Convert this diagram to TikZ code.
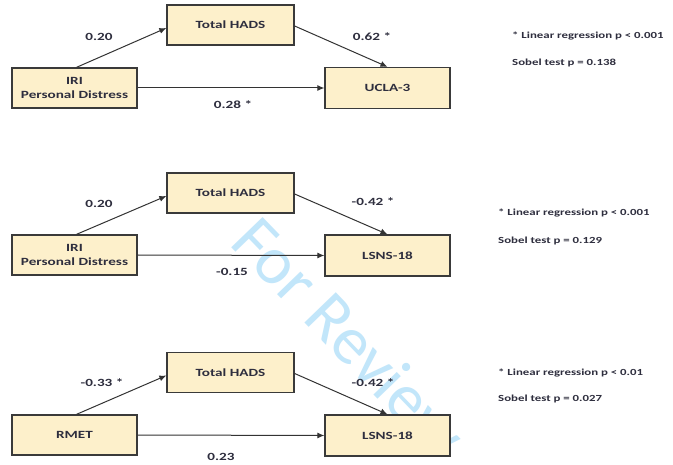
\documentclass[tikz,border=0pt]{standalone}
\usepackage{fontspec}
\setmainfont{Carlito}[FakeStretch=1.38]
\newfontfamily\wmfont{Carlito}
\usetikzlibrary{arrows.meta}
\definecolor{boxfill}{HTML}{FDF0CB}
\definecolor{boxline}{HTML}{3A3A3A}
\definecolor{txt}{HTML}{2E2E3E}
\definecolor{wm}{HTML}{C2E6FA}
\tikzset{
  varbox/.style={draw=boxline, fill=boxfill, line width=1.3pt, minimum width=125pt, minimum height=40pt, inner sep=0pt, align=center, text=txt, font=\bfseries\fontsize{11}{14}\selectfont},
  conn/.style={draw=black!80, line width=1pt, -{Latex[length=7pt,width=6pt]}},
  coef/.style={text=txt, font=\bfseries\fontsize{11}{13}\selectfont, inner sep=0pt},
  note/.style={text=txt, font=\bfseries\fontsize{9.3}{11}\selectfont, inner sep=0pt, anchor=west}
}
\begin{document}
\begin{tikzpicture}[x=1pt,y=-1pt]
\useasboundingbox[fill=white] (0,0) rectangle (673,465);
% watermark
\node[text=wm, font=\wmfont\fontsize{68}{68}\selectfont, rotate=-46, anchor=base west, inner sep=0pt] (wmk) at (228,244) {For Review};
% Diagram 1
\node[varbox] (a1) at (74.5,88) {IRI\\Personal Distress};
\node[varbox, minimum width=127pt] (m1) at (230.5,25) {Total HADS};
\node[varbox, minimum height=41pt] (y1) at (387.5,88) {UCLA-3};
\draw[conn] ([xshift=2pt]a1.north) -- ([yshift=-3pt]m1.west);
\draw[conn] ([yshift=-1pt]m1.east) -- (y1.north);
\draw[conn] (a1.east) -- (y1.west);
\node[coef] (c11) at (99,37) {0.20};
\node[coef] (c12) at (372,37) {0.62 *};
\node[coef] (c13) at (233,105) {0.28 *};
\node[note] (n11) at (512,36) {* Linear regression p < 0.001};
\node[note] (n12) at (512,63) {Sobel test p = 0.138};
% Diagram 2
\node[varbox] (a2) at (74.5,255) {IRI\\Personal Distress};
\node[varbox, minimum width=127pt] (m2) at (230.5,193) {Total HADS};
\node[varbox, minimum height=41pt] (y2) at (387.5,255.5) {LSNS-18};
\draw[conn] ([xshift=2pt]a2.north) -- ([yshift=-3pt]m2.west);
\draw[conn] ([yshift=-1pt]m2.east) -- (y2.north);
\draw[conn] (a2.east) -- (y2.west);
\node[coef] (c21) at (99,204) {0.20};
\node[coef] (c22) at (373,202) {-0.42 *};
\node[coef] (c23) at (232,272) {-0.15};
\node[note] (n21) at (498,213) {* Linear regression p < 0.001};
\node[note] (n22) at (498,241) {Sobel test p = 0.129};
% Diagram 3
\node[varbox] (a3) at (74.5,435) {RMET};
\node[varbox, minimum width=127pt] (m3) at (230.5,372.5) {Total HADS};
\node[varbox, minimum height=41pt] (y3) at (387.5,435.5) {LSNS-18};
\draw[conn] ([xshift=2pt]a3.north) -- ([yshift=-3pt]m3.west);
\draw[conn] ([yshift=-1pt]m3.east) -- (y3.north);
\draw[conn] (a3.east) -- (y3.west);
\node[coef] (c31) at (102,383) {-0.33 *};
\node[coef] (c32) at (373,383) {-0.42 *};
\node[coef] (c33) at (221,457) {0.23};
\node[note] (n31) at (498,373) {* Linear regression p < 0.01};
\node[note] (n32) at (498,399) {Sobel test p = 0.027};
\end{tikzpicture}
\end{document}
